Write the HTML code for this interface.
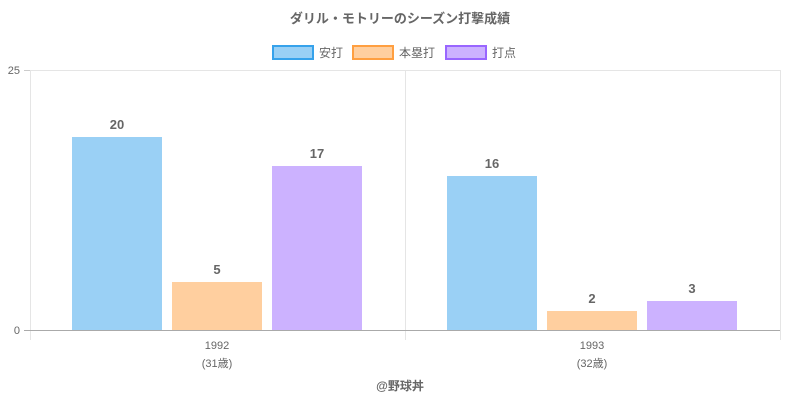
<!DOCTYPE html>
<html><head><meta charset="utf-8"><style>
body{margin:0;background:#fff;}
svg{display:block;font-family:"Liberation Sans","Noto Sans CJK JP",sans-serif;}
</style></head><body>
<svg width="800" height="400" viewBox="0 0 800 400">
<text x="400" y="23" text-anchor="middle" font-size="13" font-weight="bold" fill="#666">ダリル・モトリーのシーズン打撃成績</text>
<rect x="273" y="46" width="40" height="13" fill="#9ad0f5" stroke="#36a2eb" stroke-width="2"/>
<text x="319" y="57" font-size="12" fill="#666">安打</text>
<rect x="353" y="46" width="40" height="13" fill="#ffcf9f" stroke="#ff9f40" stroke-width="2"/>
<text x="399" y="57" font-size="12" fill="#666">本塁打</text>
<rect x="446" y="46" width="40" height="13" fill="#ccb2ff" stroke="#9966ff" stroke-width="2"/>
<text x="492" y="57" font-size="12" fill="#666">打点</text>
<line x1="30" y1="70.5" x2="780" y2="70.5" stroke="#e5e5e5"/>
<line x1="24" y1="70.5" x2="30" y2="70.5" stroke="#ccc"/>
<line x1="30.5" y1="70" x2="30.5" y2="340" stroke="#e5e5e5"/>
<line x1="405.5" y1="70" x2="405.5" y2="340" stroke="#e5e5e5"/>
<line x1="780.5" y1="70" x2="780.5" y2="340" stroke="#e5e5e5"/>
<text x="20" y="74" text-anchor="end" font-size="11" fill="#666">25</text>
<text x="20" y="334" text-anchor="end" font-size="11" fill="#666">0</text>
<rect x="72" y="137" width="90" height="193" fill="#9ad0f5"/>
<rect x="172" y="282" width="90" height="48" fill="#ffcf9f"/>
<rect x="272" y="166" width="90" height="164" fill="#ccb2ff"/>
<rect x="447" y="176" width="90" height="154" fill="#9ad0f5"/>
<rect x="547" y="311" width="90" height="19" fill="#ffcf9f"/>
<rect x="647" y="301" width="90" height="29" fill="#ccb2ff"/>
<line x1="24" y1="330.5" x2="780" y2="330.5" stroke="#aaa"/>
<g font-size="13" font-weight="bold" fill="#666" text-anchor="middle">
<text x="117" y="129">20</text><text x="217" y="274">5</text><text x="317" y="158">17</text>
<text x="492" y="168">16</text><text x="592" y="303">2</text><text x="692" y="293">3</text>
</g>
<g font-size="11" fill="#666" text-anchor="middle">
<text x="217" y="349">1992</text><text x="217" y="367">(31歳)</text>
<text x="592" y="349">1993</text><text x="592" y="367">(32歳)</text>
</g>
<text x="400" y="390" text-anchor="middle" font-size="12" font-weight="bold" fill="#666">@野球丼</text>
</svg>
</body></html>
